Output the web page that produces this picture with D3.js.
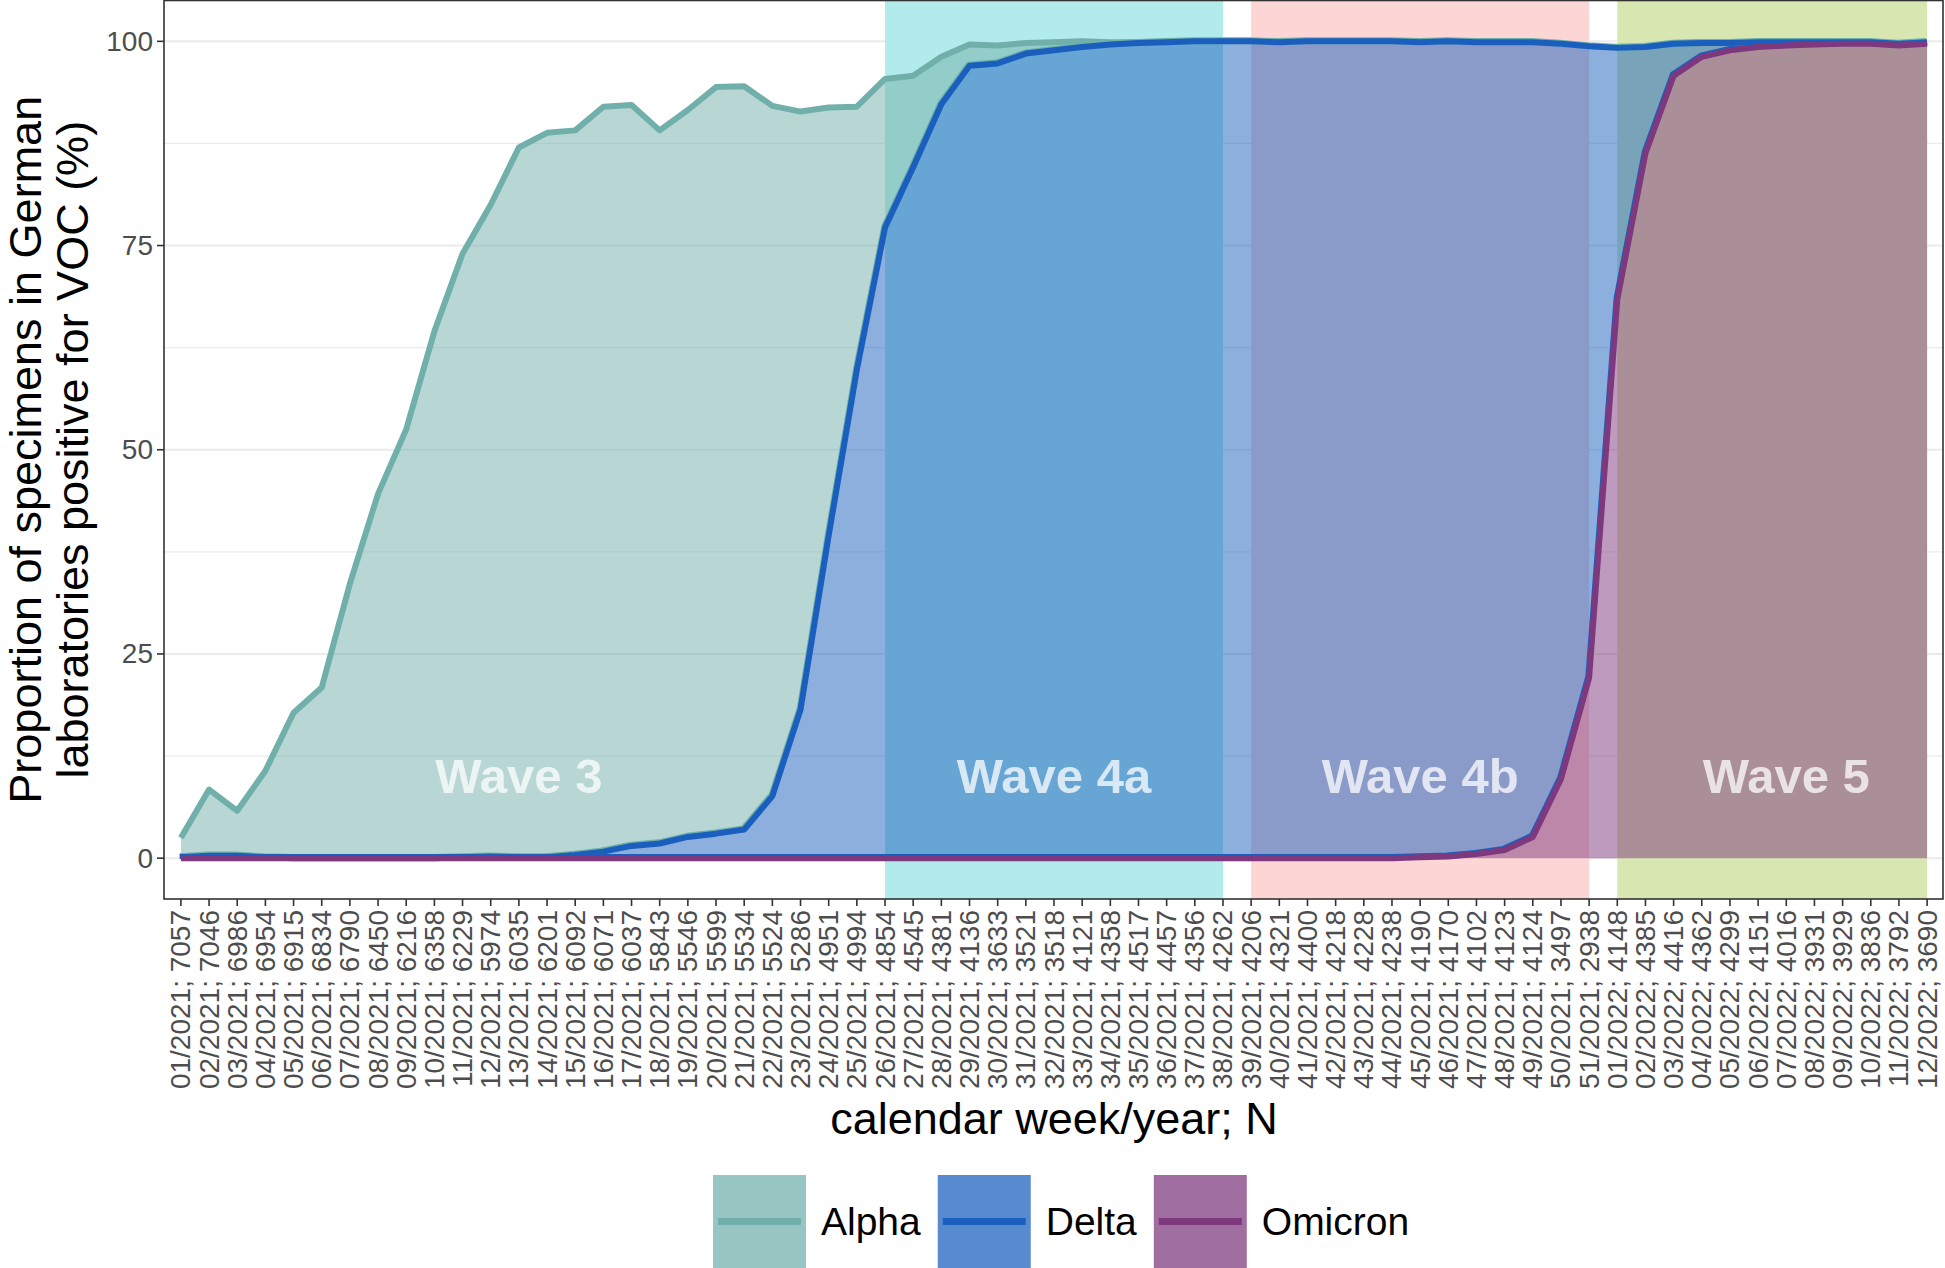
<!DOCTYPE html>
<html>
<head>
<meta charset="utf-8">
<script src="https://cdn.jsdelivr.net/npm/d3@7"></script>
<style>
  body { margin: 0; background: #fff; }
  text { font-family: "Liberation Sans", Arial, Helvetica, sans-serif; }
</style>
</head>
<body>
<script>
// chart size
var width = 1945;
var height = 1268;

// calendar weeks shown on the x axis (52/2021 is not in the data)
var weeks = [
  "01/2021","02/2021","03/2021","04/2021","05/2021","06/2021","07/2021","08/2021","09/2021","10/2021",
  "11/2021","12/2021","13/2021","14/2021","15/2021","16/2021","17/2021","18/2021","19/2021","20/2021",
  "21/2021","22/2021","23/2021","24/2021","25/2021","26/2021","27/2021","28/2021","29/2021","30/2021",
  "31/2021","32/2021","33/2021","34/2021","35/2021","36/2021","37/2021","38/2021","39/2021","40/2021",
  "41/2021","42/2021","43/2021","44/2021","45/2021","46/2021","47/2021","48/2021","49/2021","50/2021",
  "51/2021","01/2022","02/2022","03/2022","04/2022","05/2022","06/2022","07/2022","08/2022","09/2022",
  "10/2022","11/2022","12/2022"
];

// number of specimens per week
var nSpecimens = [
  7057,7046,6986,6954,6915,6834,6790,6450,6216,6358,
  6229,5974,6035,6201,6092,6071,6037,5843,5546,5599,
  5534,5524,5286,4951,4994,4854,4545,4381,4136,3633,
  3521,3518,4121,4358,4517,4457,4356,4262,4206,4321,
  4400,4218,4228,4238,4190,4170,4102,4123,4124,3497,
  2938,4148,4385,4416,4362,4299,4151,4016,3931,3929,
  3836,3792,3690
];

// share of each variant (%), stacked in the plot
var alphaShare = [
  2.4,8.1,5.5,10.6,17.8,20.9,33.6,44.6,52.5,64.5,
  73.9,79.8,86.9,88.7,88.7,91.2,90.7,87.3,89.0,91.4,
  91.0,84.5,73.2,52.4,32.2,18.2,11.2,5.8,2.6,2.2,
  1.3,1.0,0.7,0.3,0.1,0,0,0,0,0,
  0,0,0,0,0,0,0,0,0,0,
  0,0,0,0,0,0,0,0,0,0,
  0,0,0
];
var deltaShare = [
  0.1,0.3,0.3,0.1,0,0,0,0,0,0,
  0.1,0.2,0.1,0.1,0.4,0.8,1.5,1.8,2.6,3.0,
  3.5,7.6,18.2,39.5,59.8,77.2,84.6,92.3,97.0,97.3,
  98.5,98.9,99.3,99.6,99.8,99.9,100,100,100,99.9,
  100,100,100,100,99.8,99.8,99.4,98.9,97.3,90.0,
  77.3,30.8,13.0,3.9,1.7,0.9,0.6,0.4,0.3,0.2,
  0.2,0.2,0.2
];
var omicronShare = [
  0,0,0,0,0,0,0,0,0,0,
  0,0,0,0,0,0,0,0,0,0,
  0,0,0,0,0,0,0,0,0,0,
  0,0,0,0,0,0,0,0,0,0,
  0,0,0,0,0.1,0.2,0.5,1.0,2.6,9.7,
  22.1,68.4,86.3,95.8,98.1,98.9,99.3,99.5,99.6,99.7,
  99.7,99.5,99.7
];

var variants = ["Alpha", "Delta", "Omicron"];
var variantColors = ["#71b0aa", "#1a5fbe", "#7e387e"];

// pandemic waves (background bands)
var waveNames = ["Wave 3", "Wave 4a", "Wave 4b", "Wave 5"];
var waveStart = ["01/2021", "26/2021", "39/2021", "01/2022"];
var waveEnd = ["25/2021", "38/2021", "51/2021", "12/2022"];
var waveLabelWeek = ["13/2021", "32/2021", "45/2021", "07/2022"];
var waveColors = [null, "#b2ebeb", "#fcd6d4", "#d8e6b2"];
var waveLabelY = 10;

var yTicks = [0, 25, 50, 75, 100];
var yMinor = [12.5, 37.5, 62.5, 87.5];

// panel
var panel = {left: 164, right: 1944, top: 0.5, bottom: 899};

var svg = d3.select("body")
  .append("svg")
  .attr("width", width)
  .attr("height", height);

svg.append("rect").attr("width", width).attr("height", height).attr("fill", "#fff");

var x = d3.scalePoint()
  .domain(weeks)
  .range([panel.left, panel.right])
  .padding(0.6);

var y = d3.scaleLinear()
  .domain([-5, 105])
  .range([panel.bottom, panel.top]);

// rows for stacking
var rows = weeks.map(function(w, i) {
  return {week: w, Alpha: alphaShare[i], Delta: deltaShare[i], Omicron: omicronShare[i]};
});
var stack = d3.stack().keys(["Omicron", "Delta", "Alpha"]);
var series = stack(rows);
var byKey = {};
series.forEach(function(s) { byKey[s.key] = s; });

// grid lines
svg.append("g").selectAll("line.minor")
  .data(yMinor)
  .enter().append("line")
  .attr("x1", panel.left).attr("x2", panel.right)
  .attr("y1", function(d) { return y(d); })
  .attr("y2", function(d) { return y(d); })
  .attr("stroke", "#ebebeb").attr("stroke-width", 1.2);

svg.append("g").selectAll("line.major")
  .data(yTicks)
  .enter().append("line")
  .attr("x1", panel.left).attr("x2", panel.right)
  .attr("y1", function(d) { return y(d); })
  .attr("y2", function(d) { return y(d); })
  .attr("stroke", "#ebebeb").attr("stroke-width", 2);

// wave bands
svg.append("g").selectAll("rect")
  .data(waveNames.map(function(n, i) { return i; }).filter(function(i) { return waveColors[i]; }))
  .enter().append("rect")
  .attr("x", function(i) { return x(waveStart[i]); })
  .attr("width", function(i) { return x(waveEnd[i]) - x(waveStart[i]); })
  .attr("y", panel.top)
  .attr("height", panel.bottom - panel.top)
  .attr("fill", function(i) { return waveColors[i]; });

// stacked areas
var area = d3.area()
  .x(function(d) { return x(d.data.week); })
  .y0(function(d) { return y(d[0]); })
  .y1(function(d) { return y(d[1]); });

variants.forEach(function(v, i) {
  svg.append("path")
    .datum(byKey[v])
    .attr("d", area)
    .attr("fill", variantColors[i])
    .attr("fill-opacity", 0.5);
});

// faint lower edges of the Alpha and Delta ribbons
var lowerLine = d3.line()
  .x(function(d) { return x(d.data.week); })
  .y(function(d) { return y(d[0]); });

["Alpha", "Delta"].forEach(function(v) {
  svg.append("path")
    .datum(byKey[v])
    .attr("d", lowerLine)
    .attr("fill", "none")
    .attr("stroke", variantColors[variants.indexOf(v)])
    .attr("stroke-width", 5)
    .attr("stroke-linejoin", "round")
    .attr("transform", "translate(-1.2,-1.6)");
});

// lines on top of each ribbon
var upperLine = d3.line()
  .x(function(d) { return x(d.data.week); })
  .y(function(d) { return y(d[1]); });

variants.forEach(function(v, i) {
  svg.append("path")
    .datum(byKey[v])
    .attr("d", upperLine)
    .attr("fill", "none")
    .attr("stroke", variantColors[i])
    .attr("stroke-width", 6)
    .attr("stroke-linejoin", "round");
});

// wave labels
svg.append("g").selectAll("text")
  .data(waveNames)
  .enter().append("text")
  .attr("x", function(d, i) { return x(waveLabelWeek[i]); })
  .attr("y", y(waveLabelY))
  .attr("text-anchor", "middle")
  .attr("dominant-baseline", "central")
  .attr("font-size", 49)
  .attr("font-weight", "bold")
  .attr("fill", "#fff")
  .attr("fill-opacity", 0.75)
  .text(function(d) { return d; });

// panel border
svg.append("rect")
  .attr("x", panel.left).attr("y", panel.top)
  .attr("width", panel.right - panel.left - 1)
  .attr("height", panel.bottom - panel.top)
  .attr("fill", "none")
  .attr("stroke", "#333").attr("stroke-width", 1.6);

// y axis
var yAxis = svg.append("g");
yAxis.selectAll("line")
  .data(yTicks)
  .enter().append("line")
  .attr("x1", panel.left - 7).attr("x2", panel.left)
  .attr("y1", function(d) { return y(d); })
  .attr("y2", function(d) { return y(d); })
  .attr("stroke", "#333").attr("stroke-width", 1.6);
yAxis.selectAll("text")
  .data(yTicks)
  .enter().append("text")
  .attr("x", panel.left - 11)
  .attr("y", function(d) { return y(d); })
  .attr("text-anchor", "end")
  .attr("dominant-baseline", "central")
  .attr("font-size", 28)
  .attr("fill", "#4d4d4d")
  .text(function(d) { return d; });

// x axis
var xAxis = svg.append("g");
xAxis.selectAll("line")
  .data(weeks)
  .enter().append("line")
  .attr("x1", function(d) { return x(d); })
  .attr("x2", function(d) { return x(d); })
  .attr("y1", panel.bottom).attr("y2", panel.bottom + 7)
  .attr("stroke", "#333").attr("stroke-width", 1.6);
xAxis.selectAll("text")
  .data(weeks)
  .enter().append("text")
  .attr("transform", function(d) { return "translate(" + x(d) + "," + (panel.bottom + 11) + ") rotate(-90)"; })
  .attr("text-anchor", "end")
  .attr("dominant-baseline", "central")
  .attr("font-size", 28)
  .attr("fill", "#4d4d4d")
  .text(function(d, i) { return d + "; " + nSpecimens[i]; });

// axis titles
svg.append("text")
  .attr("x", (panel.left + panel.right) / 2)
  .attr("y", 1134)
  .attr("text-anchor", "middle")
  .attr("font-size", 45)
  .attr("fill", "#000")
  .text("calendar week/year; N");

var yTitle = svg.append("text")
  .attr("transform", "translate(0," + ((panel.top + panel.bottom) / 2) + ") rotate(-90)")
  .attr("text-anchor", "middle")
  .attr("font-size", 45)
  .attr("fill", "#000");
yTitle.append("tspan").attr("x", 0).attr("y", 25).attr("dominant-baseline", "central")
  .text("Proportion of specimens in German");
yTitle.append("tspan").attr("x", 0).attr("y", 72).attr("dominant-baseline", "central")
  .text("laboratories positive for VOC (%)");

// legend
var keySize = 93;
var legend = svg.append("g");
var lx = 713;
var legendTop = 1175;
variants.forEach(function(v, i) {
  var g = legend.append("g").attr("transform", "translate(" + lx + "," + legendTop + ")");
  g.append("rect")
    .attr("width", keySize).attr("height", keySize)
    .attr("fill", variantColors[i]).attr("fill-opacity", 0.73);
  g.append("line")
    .attr("x1", 5).attr("x2", keySize - 5)
    .attr("y1", keySize / 2).attr("y2", keySize / 2)
    .attr("stroke", variantColors[i]).attr("stroke-width", 7);
  var t = g.append("text")
    .attr("x", keySize + 15)
    .attr("y", keySize / 2)
    .attr("dominant-baseline", "central")
    .attr("font-size", 39)
    .attr("fill", "#000")
    .text(v);
  lx += keySize + 15 + t.node().getComputedTextLength() + 17;
});
</script>
</body>
</html>
